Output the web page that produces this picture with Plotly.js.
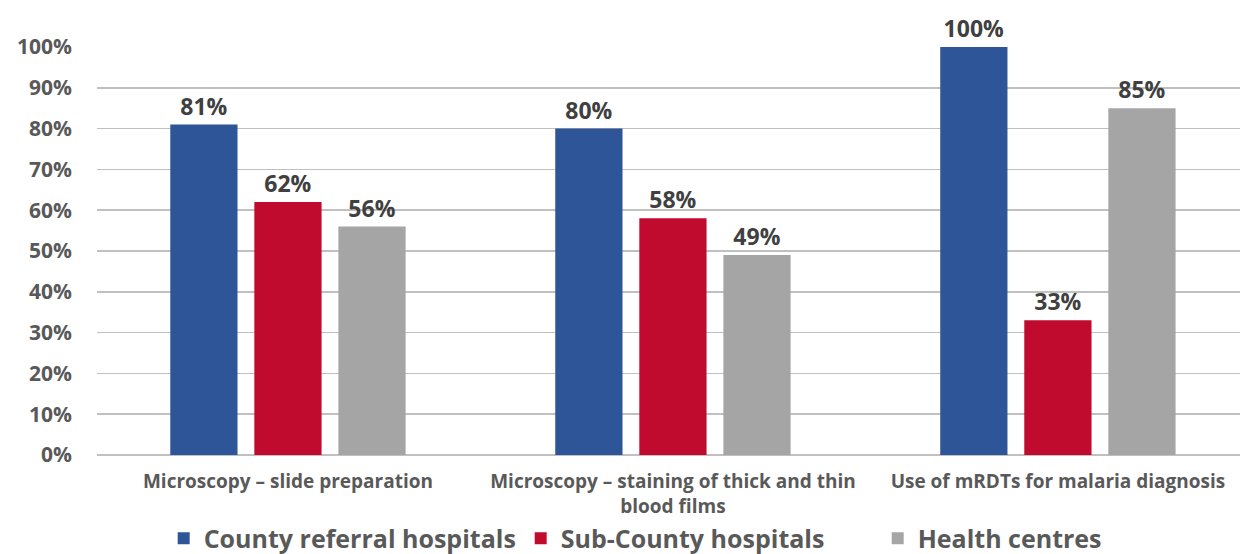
<!DOCTYPE html>
<html>
<head>
<meta charset="utf-8">
<script src="https://cdn.plot.ly/plotly-3.0.1.min.js"></script>
<style>html,body{margin:0;padding:0;background:#fff;}#chart{width:1243px;height:554px;}</style>
</head>
<body>
<div id="chart"></div>
<script>
const categories = [
  "Microscopy – slide preparation",
  "Microscopy – staining of thick and thin<br>blood films",
  "Use of mRDTs for malaria diagnosis"
];
const seriesNames = ["County referral hospitals", "Sub-County hospitals", "Health centres"];
const countyReferral = [0.81, 0.80, 1.00];
const subCounty = [0.62, 0.58, 0.33];
const healthCentres = [0.56, 0.49, 0.85];
const colors = ["#2E5597", "#C00A2E", "#A5A5A5"];
const yTickVals = [0, 0.1, 0.2, 0.3, 0.4, 0.5, 0.6, 0.7, 0.8, 0.9, 1.0];
const yTickText = ["0%", "10%", "20%", "30%", "40%", "50%", "60%", "70%", "80%", "90%", "100%"];

const FONT = "'Open Sans', sans-serif";
const bold = s => "<b>" + s + "</b>";
const seriesValues = [countyReferral, subCounty, healthCentres];
const traces = seriesValues.map((vals, i) => ({
  type: "bar",
  name: bold(seriesNames[i]),
  x: [0, 1, 2],
  y: vals,
  marker: {color: colors[i]},
  texttemplate: "<b>%{y:.0%}</b>",
  textposition: "outside",
  constraintext: "none",
  cliponaxis: false,
  textfont: {family: FONT, size: 23, color: "#404040"},
  hoverinfo: "none"
}));

const layout = {
  width: 1243, height: 554,
  margin: {l: 97, r: 3, t: 47, b: 99},
  paper_bgcolor: "#fff", plot_bgcolor: "#fff",
  barmode: "group",
  bargap: 0.345,
  bargroupgap: 0.2,
  font: {family: FONT, color: "#595959"},
  xaxis: {
    type: "linear",
    range: [-0.496, 2.473],
    tickvals: [0, 1, 2],
    ticktext: categories.map(bold),
    tickfont: {family: FONT, size: 19, color: "#595959"},
    showgrid: false,
    showline: false,
    zeroline: false,
    ticks: "",
    ticklabelstandoff: 13,
    automargin: false
  },
  yaxis: {
    range: [0, 1],
    tickvals: yTickVals,
    ticktext: yTickText.map(bold),
    tickfont: {family: FONT, size: 21, color: "#595959"},
    showgrid: true,
    gridcolor: "#C0C0C0",
    gridwidth: 1.5,
    zeroline: true,
    zerolinecolor: "#C0C0C0",
    zerolinewidth: 1.5,
    showline: false,
    ticks: "",
    ticklabelstandoff: 24,
    automargin: false
  },
  legend: {
    orientation: "h",
    xref: "container", yref: "container",
    x: 0.5625, xanchor: "center",
    y: 0.028, yanchor: "middle",
    font: {family: FONT, size: 25, color: "#595959"},
    itemwidth: 30,
    entrywidth: 312,
    entrywidthmode: "pixels",
    traceorder: "normal"
  },
  showlegend: true
};

Plotly.newPlot("chart", traces, layout, {displayModeBar: false, staticPlot: true});
</script>
</body>
</html>
